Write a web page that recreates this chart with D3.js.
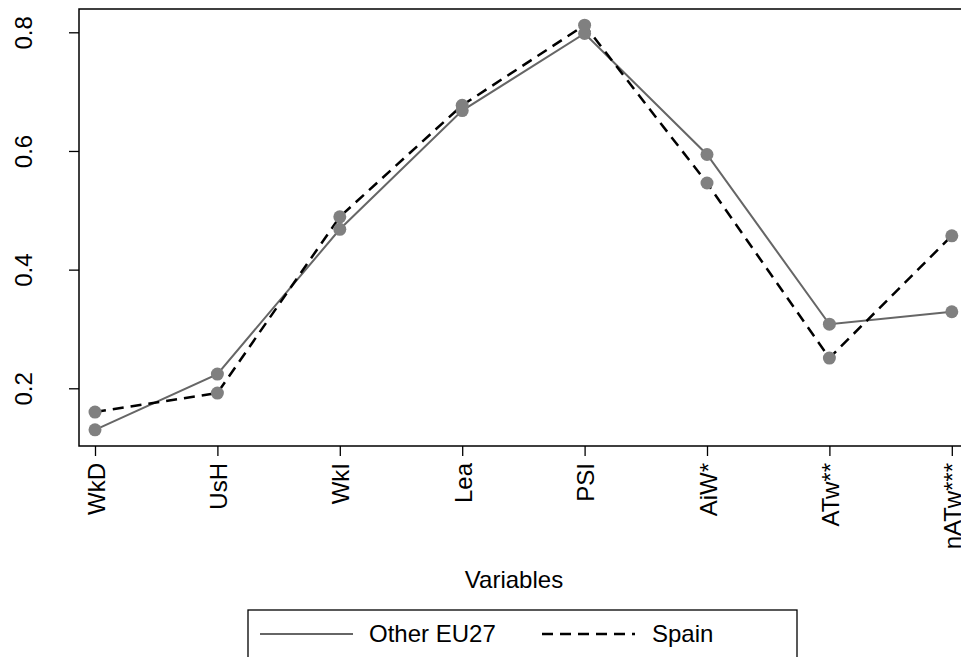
<!DOCTYPE html>
<html>
<head>
<meta charset="utf-8">
<script src="https://cdn.jsdelivr.net/npm/d3@7"></script>
<style>
  body { margin: 0; background: #fff; }
  svg text { font-family: "Liberation Sans", Arial, sans-serif; }
</style>
</head>
<body>
<div id="chart"></div>
<script>
// category labels and the two series
const categories = ["WkD", "UsH", "WkI", "Lea", "PSI", "AiW*", "ATw**", "nATw***"];
const otherEU27 = [0.130, 0.224, 0.468, 0.668, 0.798, 0.594, 0.308, 0.329];
const spain = [0.160, 0.192, 0.489, 0.677, 0.812, 0.546, 0.251, 0.457];
const yTicks = [0.2, 0.4, 0.6, 0.8];

const width = 961, height = 657;

const svg = d3.select("#chart")
    .append("svg")
    .attr("width", width)
    .attr("height", height);

// plot region (the picture is cropped on the right)
const plotLeft = 79, plotTop = 9, plotBottom = 446, plotRight = 980;

const x = d3.scalePoint()
    .domain(categories)
    .range([95, 95 + 122.4 * (categories.length - 1)]);

const y = d3.scaleLinear()
    .domain([0.2, 0.8])
    .range([388.3, 32.3]);

// frame
svg.append("path")
    .attr("d", `M${plotRight},${plotTop}H${plotLeft}V${plotBottom}H${plotRight}`)
    .attr("fill", "none")
    .attr("stroke", "#000")
    .attr("stroke-width", 1.5);

// y axis
const yAxis = svg.append("g")
    .attr("transform", `translate(${plotLeft},0)`)
    .call(d3.axisLeft(y).tickValues(yTicks).tickSize(10).tickFormat(d3.format(".1f")));
yAxis.select(".domain").remove();
yAxis.selectAll(".tick line").attr("stroke", "#000").attr("stroke-width", 1.3);
yAxis.selectAll(".tick text")
    .attr("transform", "rotate(-90)")
    .attr("x", 0)
    .attr("y", -47)
    .attr("dy", 0)
    .attr("text-anchor", "middle")
    .style("font-size", "24px")
    .attr("fill", "#000");

// x axis
const xAxis = svg.append("g")
    .attr("transform", `translate(0,${plotBottom})`)
    .call(d3.axisBottom(x).tickSize(10));
xAxis.select(".domain").remove();
xAxis.selectAll(".tick line").attr("stroke", "#000").attr("stroke-width", 1.3);
xAxis.selectAll(".tick text")
    .attr("transform", "rotate(-90)")
    .attr("x", -17)
    .attr("y", 9)
    .attr("dy", 0)
    .attr("text-anchor", "end")
    .style("font-size", "24px")
    .attr("fill", "#000");

// lines
const line = d3.line()
    .x((d, i) => x(categories[i]))
    .y(d => y(d));

svg.append("path")
    .datum(otherEU27)
    .attr("d", line)
    .attr("fill", "none")
    .attr("stroke", "#666")
    .attr("stroke-width", 2);

svg.append("path")
    .datum(spain)
    .attr("d", line)
    .attr("fill", "none")
    .attr("stroke", "#000")
    .attr("stroke-width", 2.5)
    .attr("stroke-dasharray", "11,7");

// markers
[otherEU27, spain].forEach(series => {
    svg.append("g")
        .selectAll("circle")
        .data(series)
        .join("circle")
        .attr("cx", (d, i) => x(categories[i]))
        .attr("cy", d => y(d))
        .attr("r", 6.5)
        .attr("fill", "#808080");
});

// axis title
svg.append("text")
    .attr("x", 514)
    .attr("y", 588)
    .attr("text-anchor", "middle")
    .style("font-size", "24px")
    .text("Variables");

// legend
const legend = svg.append("g");
legend.append("rect")
    .attr("x", 248)
    .attr("y", 610)
    .attr("width", 549)
    .attr("height", 80)
    .attr("fill", "none")
    .attr("stroke", "#000")
    .attr("stroke-width", 1.3);

legend.append("line")
    .attr("x1", 260).attr("x2", 353)
    .attr("y1", 634).attr("y2", 634)
    .attr("stroke", "#666")
    .attr("stroke-width", 2);
legend.append("text")
    .attr("x", 369)
    .attr("y", 642)
    .style("font-size", "24px")
    .text("Other EU27");

legend.append("line")
    .attr("x1", 542).attr("x2", 635)
    .attr("y1", 634).attr("y2", 634)
    .attr("stroke", "#000")
    .attr("stroke-width", 2.5)
    .attr("stroke-dasharray", "11,7");
legend.append("text")
    .attr("x", 652)
    .attr("y", 642)
    .style("font-size", "24px")
    .text("Spain");
</script>
</body>
</html>
